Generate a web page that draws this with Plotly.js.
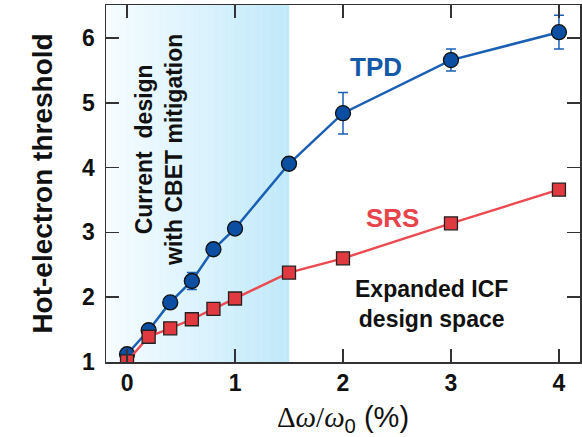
<!DOCTYPE html>
<html>
<head>
<meta charset="utf-8">
<script src="https://cdn.plot.ly/plotly-3.0.1.min.js"></script>
<style>html,body{margin:0;padding:0;background:#fff;}#chart{width:582px;height:437px;}</style>
</head>
<body>
<div id="chart"></div>
<script>
// Data
const deltaOmega = [0, 0.2, 0.4, 0.6, 0.8, 1.0, 1.5, 2, 3, 4];
const tpdThreshold = [1.12, 1.49, 1.92, 2.25, 2.74, 3.06, 4.06, 4.84, 5.66, 6.09];
const tpdError = [0, 0, 0, 0.13, 0, 0, 0, 0.32, 0.17, 0.26];
const srsThreshold = [1.01, 1.39, 1.52, 1.66, 1.82, 1.98, 2.38, 2.60, 3.14, 3.66];
const xTicks = [0, 1, 2, 3, 4];
const yTicks = [1, 2, 3, 4, 5, 6];
const currentDesignLimit = 1.5;

const xRange = [-0.195, 4.195];
const yRange = [1, 6.51];
const FONT = "Liberation Sans, Arial, Helvetica, sans-serif";

// gradient band for the current design region
const shapes = [];
const nStrips = 40;
const c0 = [246, 252, 255], c1 = [192, 233, 250];
for (let i = 0; i < nStrips; i++) {
  const t = i / (nStrips - 1);
  const col = c0.map((v, k) => Math.round(v + (c1[k] - v) * t));
  const xa = xRange[0] + (currentDesignLimit - xRange[0]) * i / nStrips;
  const xb = xRange[0] + (currentDesignLimit - xRange[0]) * (i + 1) / nStrips;
  shapes.push({type: 'rect', xref: 'x', yref: 'paper', x0: xa, x1: xb + 0.002, y0: 0, y1: 1,
    fillcolor: `rgb(${col[0]},${col[1]},${col[2]})`, line: {width: 0}, layer: 'below'});
}

const traces = [
  {
    x: deltaOmega, y: tpdThreshold, type: 'scatter', mode: 'lines+markers', name: 'TPD',
    line: {color: '#1a5fb4', width: 2.5},
    marker: {symbol: 'circle', size: 15, color: '#0b4ea2', line: {color: '#111', width: 1.3}},
    error_y: {type: 'data', array: tpdError, visible: true, color: '#1a5fb4', thickness: 1.5, width: 5}
  },
  {
    x: deltaOmega, y: srsThreshold, type: 'scatter', mode: 'lines+markers', name: 'SRS',
    line: {color: '#ea4a50', width: 2.4},
    marker: {symbol: 'square', size: 13, color: '#e03a40', line: {color: '#222', width: 1.3}}
  }
];

const layout = {
  width: 582, height: 437,
  margin: {l: 106, r: 2, t: 5, b: 75},
  paper_bgcolor: '#fff', plot_bgcolor: '#fff',
  showlegend: false,
  font: {family: FONT, color: '#111'},
  xaxis: {
    range: xRange, tickvals: xTicks, ticktext: xTicks.map(String),
    ticks: 'inside', ticklen: 13, tickwidth: 1.5, tickcolor: '#333',
    showline: true, linecolor: '#333', linewidth: 1.5, mirror: 'ticks',
    showgrid: false, zeroline: false,
    tickfont: {family: FONT, size: 23, color: '#111', weight: 'bold'},
    title: {text: "<span style='font-family:Liberation Serif, Times New Roman, serif'>Δ<i>ω</i>/<i>ω</i></span><sub>0</sub> (%)",
      font: {family: FONT, size: 29, color: '#111'}, standoff: 13}
  },
  yaxis: {
    range: yRange, tickvals: yTicks, ticktext: yTicks.map(String),
    ticks: 'inside', ticklen: 13, tickwidth: 1.5, tickcolor: '#333',
    ticklabelstandoff: 5,
    showline: true, linecolor: '#333', linewidth: 1.5, mirror: 'ticks',
    showgrid: false, zeroline: false,
    tickfont: {family: FONT, size: 23, color: '#111', weight: 'bold'},
    title: {text: 'Hot-electron threshold', font: {family: FONT, size: 28, color: '#111', weight: 'bold'}, standoff: 21}
  },
  shapes: shapes,
  annotations: [
    {x: 0.30, y: 4.28, xref: 'x', yref: 'y', text: 'Current  design<br>with CBET mitigation', showarrow: false,
      textangle: -90, font: {family: FONT, size: 23, color: '#111', weight: 'bold'}},
    {x: 2.31, y: 5.55, xref: 'x', yref: 'y', text: 'TPD', showarrow: false,
      font: {family: FONT, size: 26, color: '#1458a8', weight: 'bold'}},
    {x: 2.46, y: 3.22, xref: 'x', yref: 'y', text: 'SRS', showarrow: false,
      font: {family: FONT, size: 26, color: '#e8434a', weight: 'bold'}},
    {x: 2.82, y: 1.90, xref: 'x', yref: 'y', text: 'Expanded ICF<br>design space', showarrow: false,
      font: {family: FONT, size: 23, color: '#111', weight: 'bold'}}
  ]
};

Plotly.newPlot('chart', traces, layout, {displayModeBar: false, staticPlot: true});
</script>
</body>
</html>
